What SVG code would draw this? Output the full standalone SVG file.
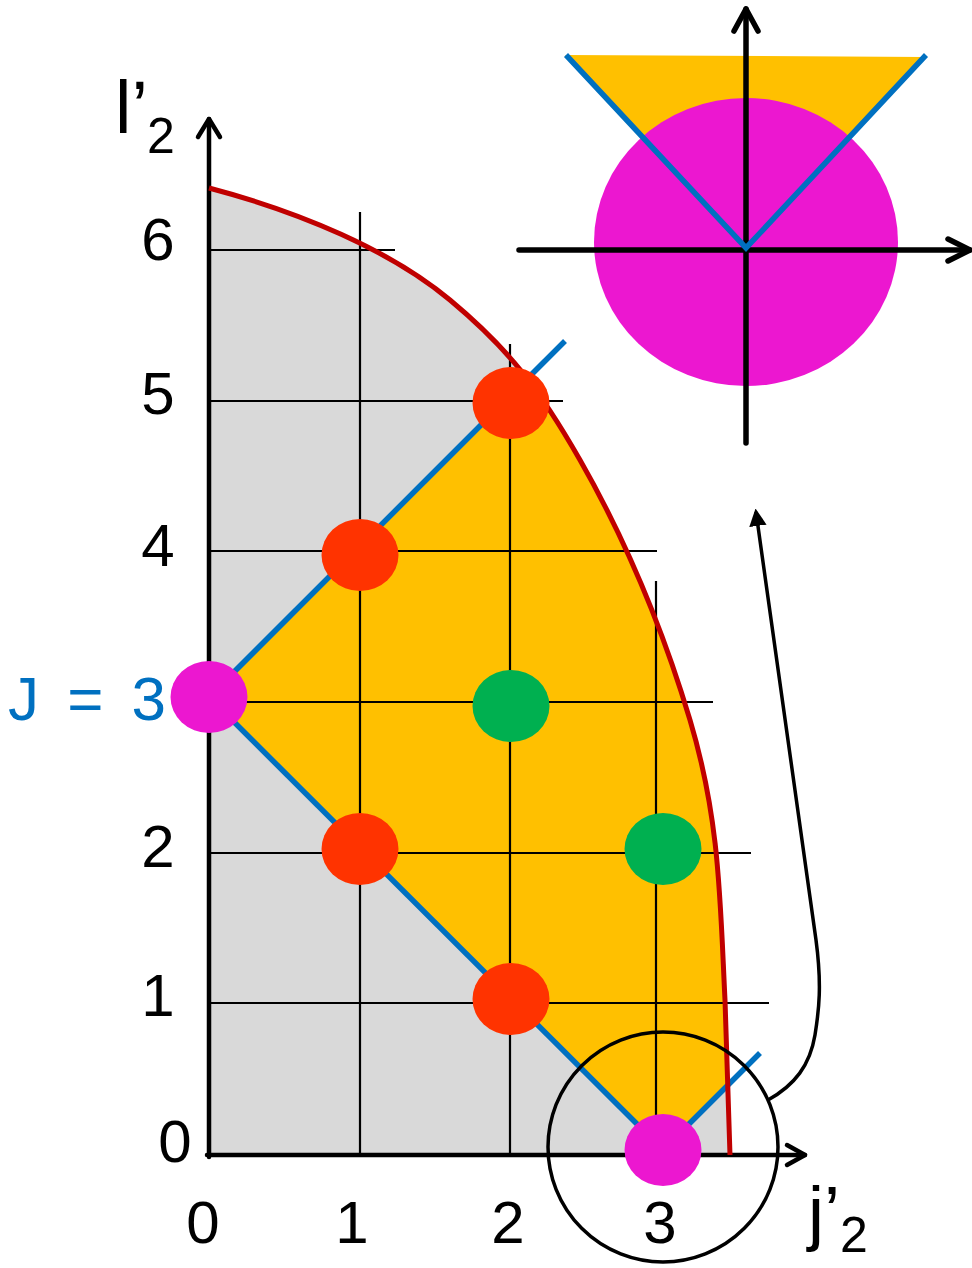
<svg xmlns="http://www.w3.org/2000/svg" width="972" height="1268" viewBox="0 0 972 1268">
<style>
text{font-family:"Liberation Sans",Arial,sans-serif;fill:#000}
.grid{stroke:#000;stroke-width:2.2;fill:none}
.axis{stroke:#000;stroke-width:4.5;fill:none;stroke-linecap:round;stroke-linejoin:round}
.iaxis{stroke:#000;stroke-width:5.5;fill:none;stroke-linecap:round;stroke-linejoin:round}
.blue{stroke:#0070C0;stroke-width:5.5;fill:none}
.red{fill:#FF3300}
.green{fill:#00B050}
.mag{fill:#EC17D0}
.tick{font-size:60px;text-anchor:middle}
</style>
<defs>
<clipPath id="under">
<path d="M209,188 C300,212 390,250 450,300 S540,390 580,460 S660,620 690,720 S720,900 725,1000 L730,1155 L209,1155 Z"/>
</clipPath>
<marker id="ah" markerWidth="5" markerHeight="5" refX="4" refY="2.5" orient="auto" markerUnits="strokeWidth">
<path d="M0,0 L5,2.5 L0,5 Z" fill="#000"/>
</marker>
</defs>
<g id="regions">
<path id="gray" d="M209,188 C300,212 390,250 450,300 S540,390 580,460 S660,620 690,720 S720,900 725,1000 L730,1155 L209,1155 Z" fill="#D9D9D9"/>
<polygon id="orange" points="209,697 650,256 950,256 950,863 663,1150" fill="#FFC000" clip-path="url(#under)"/>
</g>
<g id="grid">
<line class="grid" x1="209" y1="250" x2="395" y2="250"/>
<line class="grid" x1="209" y1="401" x2="563" y2="401"/>
<line class="grid" x1="209" y1="551" x2="657" y2="551"/>
<line class="grid" x1="209" y1="702" x2="713" y2="702"/>
<line class="grid" x1="209" y1="853" x2="751" y2="853"/>
<line class="grid" x1="209" y1="1003" x2="769" y2="1003"/>
<line class="grid" x1="360" y1="212" x2="360" y2="1155"/>
<line class="grid" x1="510" y1="344" x2="510" y2="1155"/>
<line class="grid" x1="656" y1="581" x2="656" y2="1155"/>
</g>
<g id="axes">
<line class="axis" x1="209" y1="1157" x2="209" y2="119"/>
<polyline class="axis" points="198,137 209,119 220,137"/>
<line class="axis" x1="207" y1="1155" x2="805" y2="1155"/>
<polyline class="axis" points="787,1145 805,1155 787,1165"/>
</g>
<g id="connectors">
<line class="blue" x1="209" y1="697" x2="565" y2="341"/>
<line class="blue" x1="209" y1="697" x2="663" y2="1150"/>
<line class="blue" x1="663" y1="1150" x2="760" y2="1053"/>
<path id="boundary" d="M209,188 C300,212 390,250 450,300 S540,390 580,460 S660,620 690,720 S720,900 725,1000 L730,1155" fill="none" stroke="#C00000" stroke-width="5"/>
<circle id="zoom-circle" cx="663" cy="1147" r="115" fill="none" stroke="#000" stroke-width="3.5"/>
<path id="zoom-arrow" d="M768,1100 C795,1085 810,1065 815,1035 C819,1010 822,985 816,940 L756,512" fill="none" stroke="#000" stroke-width="3.5" marker-end="url(#ah)"/>
</g>
<g id="nodes">
<ellipse id="n-0-3" class="mag" cx="209" cy="697" rx="38.5" ry="36"/>
<ellipse id="n-1-4" class="red" cx="360" cy="555" rx="38.5" ry="36"/>
<ellipse id="n-2-5" class="red" cx="511" cy="403" rx="38.5" ry="36"/>
<ellipse id="n-2-3" class="green" cx="511" cy="706" rx="38.5" ry="36"/>
<ellipse id="n-1-2" class="red" cx="360" cy="849" rx="38.5" ry="36"/>
<ellipse id="n-3-2" class="green" cx="663" cy="849" rx="38.5" ry="36"/>
<ellipse id="n-2-1" class="red" cx="511" cy="999" rx="38.5" ry="36"/>
<ellipse id="n-3-0" class="mag" cx="663" cy="1150" rx="38.5" ry="36"/>
</g>
<g id="labels">
<text class="tick" x="158" y="260">6</text>
<text class="tick" x="158" y="414">5</text>
<text class="tick" x="158" y="566">4</text>
<text class="tick" x="158" y="867">2</text>
<text class="tick" x="158" y="1016">1</text>
<text class="tick" x="175" y="1162">0</text>
<text class="tick" x="203" y="1243">0</text>
<text class="tick" x="352" y="1243">1</text>
<text class="tick" x="508" y="1243">2</text>
<text class="tick" x="660" y="1243">3</text>
<text x="8" y="720" font-size="62" style="fill:#0070C0" textLength="158" lengthAdjust="spacing">J = 3</text>
<text x="115" y="133" font-size="74">l’</text>
<text x="147" y="153" font-size="50">2</text>
<text x="808" y="1237" font-size="72">j’</text>
<text x="840" y="1252" font-size="50">2</text>
</g>
<g id="inset">
<polygon points="565,55 925,57 746,249" fill="#FFC000"/>
<ellipse cx="746" cy="242" rx="152" ry="144" fill="#EC17D0"/>
<line class="iaxis" x1="519" y1="250" x2="970" y2="250"/>
<polyline class="iaxis" points="948,239 970,250 948,261"/>
<line class="iaxis" x1="746" y1="443" x2="746" y2="9"/>
<polyline class="iaxis" points="734,31 746,9 758,31"/>
<polyline class="blue" points="566,55 746,248 926,55" stroke-width="6"/>
</g>
</svg>
